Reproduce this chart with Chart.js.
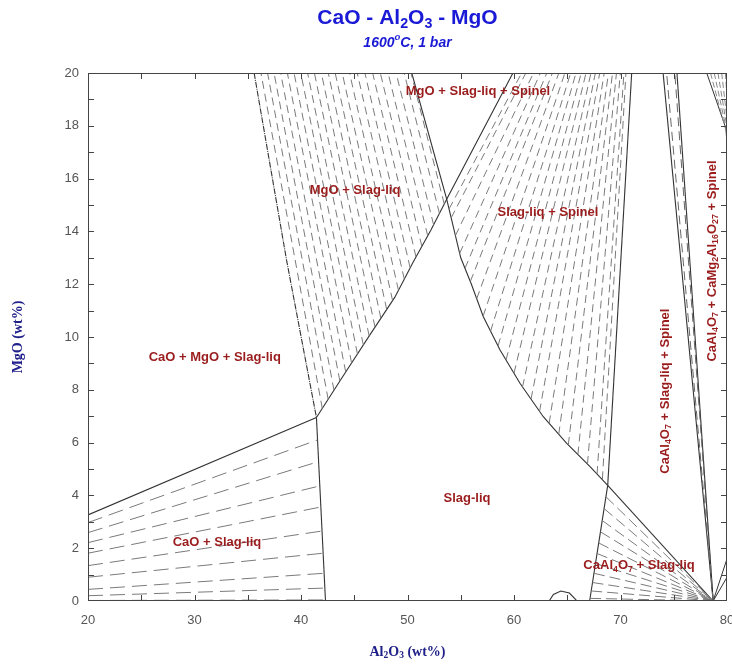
<!DOCTYPE html>
<html><head><meta charset="utf-8">
<script src="https://cdn.jsdelivr.net/npm/chart.js@4/dist/chart.umd.min.js"></script>
<style>html,body{margin:0;padding:0;background:#fff}#wrap{width:732px;height:664px;position:relative}</style>
</head><body><div id="wrap"><canvas id="c" width="732" height="664"></canvas></div>
<script>
// ---------- axis ticks ----------
const xTickMarks = [25,30,35,40,45,50,55,60,65,70,75];
const yTickMarks = [1,2,3,4,5,6,7,8,9,10,11,12,13,14,15,16,17,18,19];

// ---------- phase boundaries (Al2O3 wt%, MgO wt%) ----------
const caoLiquidus   = [[20,3.26],[41.45,6.95]];
const caoBoundary   = [[41.45,6.95],[42.3,0]];
const mgoBoundary   = [[35.6,20],[38.65,12.9],[41.45,6.95]];
const mgoLiquidus   = [[41.45,6.95],[44.0,8.55],[46.5,10.1],[48.8,11.5],[50.55,12.85],[52.2,14.05],[53.68,15.22],[59.9,20]];
const spinelLiquidus= [[50.4,20],[53.68,15.22],[55.0,13.0],[56.0,12.0],[57.12,10.77],[58.69,9.51],[60.56,8.25],[62.75,6.98],[64.95,5.97],[67.14,5.09],[68.8,4.38]];
const spinelBoundary= [[68.8,4.38],[71.05,20]];
const ca4Liquidus   = [[67.1,0],[68.8,4.38]];
const ca4Boundary   = [[68.8,4.38],[78.7,0]];
const bandLeft      = [[78.7,0],[74.0,20]];
const bandRight     = [[78.7,0],[75.3,20]];
const bandInnerTop  = [74.33,75.1];
const vertexRight   = [[80,1.6],[80,0.9]];
const topRightEdge  = [[78.1,20],[79.9,17.9],[80,17.3]];
const topRightTies  = [78.45,78.8,79.15,79.5,79.85];
const smallArc      = [[63.3,0],[63.7,0.25],[64.4,0.38],[65.2,0.3],[65.8,0.05],[65.9,0]];

// ---------- tie-lines ----------
const caoTieLeftY  = [2.97,2.59,2.21,1.81,1.34,0.9,0.44,0.2,0.02];
const caoTieRight  = [[41.55,6.1],[41.65,5.28],[41.77,4.36],[41.86,3.56],[41.97,2.65],[42.08,1.81],[42.17,1.05],[42.24,0.49],[42.3,0.04]];
const mgoTieLiq    = [[42.0,7.29],[42.55,7.64],[43.1,7.98],[43.65,8.33],[44.2,8.67],[44.75,9.02],[45.3,9.36],[45.85,9.70],[46.4,10.04],[46.95,10.37],[47.5,10.71],[48.05,11.04],[48.6,11.38],[49.15,11.77],[49.7,12.19],[50.25,12.62],[50.8,13.03],[51.35,13.43],[51.9,13.83],[52.45,14.25],[53.0,14.68],[53.45,15.04]];
const mgoTieTopX   = [36.24,36.86,37.47,38.09,38.72,39.35,39.98,40.62,41.26,41.91,42.56,43.21,43.87,44.56,45.28,46.00,46.73,47.45,48.18,48.93,49.69,50.33];
const spTieLiq     = [[53.9,14.85],[54.1,14.51],[54.5,13.84],[54.9,13.17],[55.4,12.6],[55.9,12.1],[56.5,11.45],[57.1,10.79],[57.8,10.22],[58.5,9.66],[59.25,9.13],[60.0,8.63],[60.8,8.11],[61.6,7.65],[62.4,7.18],[63.3,6.73],[64.2,6.31],[65.1,5.91],[66.0,5.55],[66.9,5.19],[67.8,4.81],[68.3,4.61]];
const spTieTopX    = [60.72,61.11,61.83,62.48,63.08,63.61,64.21,64.78,65.32,65.82,66.31,66.76,67.22,67.64,68.05,68.47,68.87,69.25,69.62,69.98,70.32,70.51];
const ca4Point     = [78.7,0];
const ca4TieLiq    = [[68.63,3.95],[68.46,3.5],[68.28,3.05],[68.12,2.62],[67.95,2.2],[67.8,1.8],[67.65,1.42],[67.51,1.05],[67.37,0.7],[67.25,0.38],[67.14,0.1]];

// ---------- labels ----------
const regionLabels = [
  {parts:[['MgO + Slag-liq + Spinel']], x:56.62, y:19.32, rot:false},
  {parts:[['MgO + Slag-liq']], x:45.07, y:15.57, rot:false},
  {parts:[['Slag-liq + Spinel']], x:63.19, y:14.73, rot:false},
  {parts:[['CaO + MgO + Slag-liq']], x:31.9, y:9.24, rot:false},
  {parts:[['Slag-liq']], x:55.59, y:3.9, rot:false},
  {parts:[['CaO + Slag-liq']], x:32.11, y:2.2, rot:false},
  {parts:[['CaAl'],['4','sub'],['O'],['7','sub'],[' + Slag-liq']], x:71.74, y:1.33, rot:false},
  {parts:[['CaAl'],['4','sub'],['O'],['7','sub'],[' + Slag-liq + Spinel']], x:74.18, y:7.95, rot:true},
  {parts:[['CaAl'],['4','sub'],['O'],['7','sub'],[' + CaMg'],['2','sub'],['Al'],['16','sub'],['O'],['27','sub'],[' + Spinel']], x:78.59, y:12.88, rot:true}
];
const titleParts    = [['CaO - Al'],['2','sub'],['O'],['3','sub'],[' - MgO']];
const subtitleParts = [['1600'],['o','sup'],['C, 1 bar']];
const xTitleParts   = [['Al'],['2','sub'],['O'],['3','sub'],[' (wt%)']];
const yTitleParts   = [['MgO (wt%)']];

// ---------- helpers ----------
const P = a => ({x:a[0], y:a[1]});
const GAP = {x:null, y:null};
function poly(arr){ return arr.map(P); }
function segs(pairs){ const d=[]; pairs.forEach(([a,b])=>{d.push(P(a),P(b),GAP);}); return d; }
function lineDs(data, color, width, dash){
  return {data, showLine:true, borderColor:color, borderWidth:width, borderDash:dash||[], pointRadius:0, pointHoverRadius:0, spanGaps:false, tension:0, fill:false};
}
const SOLID='#333', TIE='#7a7a7a';

const datasets = [
  lineDs(segs(caoTieLeftY.map((y,i)=>[[20,y],caoTieRight[i]])), TIE, 1, [15,7]),
  lineDs(segs(mgoTieLiq.map((p,i)=>[p,[mgoTieTopX[i],20]])), TIE, 1, [8,5]),
  lineDs(segs(spTieLiq.map((p,i)=>[p,[spTieTopX[i],20]])), TIE, 1, [8,5]),
  lineDs(segs(ca4TieLiq.map(p=>[p,ca4Point])), TIE, 1, [11,5]),
  lineDs(segs(bandInnerTop.map(x=>[ca4Point,[x,20]])), '#666', 1, [9,5]),
  lineDs(segs(topRightTies.map(x=>[[x,20],[80.3,17.2]])), '#888', 1, [6,3]),
  lineDs(poly(caoLiquidus), SOLID, 1.1),
  lineDs(poly(caoBoundary), SOLID, 1.1),
  lineDs(poly(mgoBoundary), SOLID, 1.1, [6,1,1,1]),
  lineDs(poly(mgoLiquidus), SOLID, 1.1),
  lineDs(poly(spinelLiquidus), SOLID, 1.1),
  lineDs(poly(spinelBoundary), SOLID, 1.1),
  lineDs(poly(ca4Liquidus), SOLID, 1.1),
  lineDs(poly(ca4Boundary), SOLID, 1.1),
  lineDs(poly(bandLeft), SOLID, 1.1),
  lineDs(poly(bandRight), SOLID, 1.1),
  lineDs(segs(vertexRight.map(p=>[ca4Point,p])), SOLID, 1),
  lineDs(poly(topRightEdge), SOLID, 1),
  lineDs(poly(smallArc), SOLID, 1.1)
];

// rich text
function richWidth(ctx, parts, size, fam, weight, style){
  let w=0;
  parts.forEach(([t,k])=>{ const s = k? size*0.68 : size; ctx.font = `${style} ${weight} ${s}px ${fam}`; w += ctx.measureText(t).width; });
  return w;
}
function drawRich(ctx, parts, cx, cy, size, fam, weight, style, color){
  const w = richWidth(ctx, parts, size, fam, weight, style);
  let x = cx - w/2;
  ctx.fillStyle = color; ctx.textBaseline='middle'; ctx.textAlign='left';
  parts.forEach(([t,k])=>{
    const s = k? size*0.68 : size;
    ctx.font = `${style} ${weight} ${s}px ${fam}`;
    const dy = k==='sub' ? size*0.28 : (k==='sup' ? -size*0.38 : 0);
    ctx.fillText(t, x, cy+dy);
    x += ctx.measureText(t).width;
  });
}

const SANS = '"Liberation Sans", Arial, sans-serif';
const NARROW = '"Liberation Sans Narrow", "Liberation Sans", Arial, sans-serif';
const SERIF = '"Liberation Serif", "Times New Roman", serif';

const decorPlugin = {
  id:'decor',
  afterDatasetsDraw(chart){
    const {ctx, chartArea:a, scales:{x,y}} = chart;
    ctx.save();
    ctx.strokeStyle='#444'; ctx.lineWidth=1;
    ctx.strokeRect(a.left+0.5, a.top+0.5, a.right-a.left-1, a.bottom-a.top-1);
    ctx.beginPath();
    xTickMarks.forEach(v=>{ const p=Math.round(x.getPixelForValue(v))+0.5;
      ctx.moveTo(p,a.bottom); ctx.lineTo(p,a.bottom-6); ctx.moveTo(p,a.top); ctx.lineTo(p,a.top+6); });
    yTickMarks.forEach(v=>{ const p=Math.round(y.getPixelForValue(v))+0.5;
      ctx.moveTo(a.left,p); ctx.lineTo(a.left+6,p); ctx.moveTo(a.right,p); ctx.lineTo(a.right-6,p); });
    ctx.stroke();
    regionLabels.forEach(L=>{
      const px=x.getPixelForValue(L.x), py=y.getPixelForValue(L.y);
      ctx.save(); ctx.translate(px,py); if(L.rot) ctx.rotate(-Math.PI/2);
      drawRich(ctx, L.parts, 0, 0, 13, SANS, 'bold', 'normal', '#9a1c1c');
      ctx.restore();
    });
    const cx = (a.left+a.right)/2;
    drawRich(ctx, titleParts, cx, 18, 21, NARROW, 'bold', 'normal', '#1a1ad6');
    drawRich(ctx, subtitleParts, cx, 43, 14, NARROW, 'bold', 'italic', '#1a1ad6');
    drawRich(ctx, xTitleParts, cx, 652, 14, SERIF, 'bold', 'normal', '#20208a');
    ctx.save(); ctx.translate(18, (a.top+a.bottom)/2); ctx.rotate(-Math.PI/2);
    drawRich(ctx, yTitleParts, 0, 0, 14, SERIF, 'bold', 'normal', '#20208a');
    ctx.restore();
    ctx.restore();
  }
};

new Chart(document.getElementById('c'), {
  type:'scatter',
  data:{datasets},
  options:{
    responsive:false, animation:false, maintainAspectRatio:false,
    layout:{padding:{top:73, right:5, left:0, bottom:0}},
    plugins:{legend:{display:false}, tooltip:{enabled:false}, title:{display:false}},
    scales:{
      x:{type:'linear', min:20, max:80,
         grid:{display:false, drawTicks:false}, border:{display:false},
         ticks:{stepSize:10, color:'#555', font:{family:SANS, size:13}, padding:12},
         afterFit(s){ s.height = 63; s.paddingLeft = 0; s.paddingRight = 0; }},
      y:{type:'linear', min:0, max:20,
         grid:{display:false, drawTicks:false}, border:{display:false},
         ticks:{stepSize:2, color:'#555', font:{family:SANS, size:13}, padding:9},
         afterFit(s){ s.width = 88; s.paddingTop = 0; s.paddingBottom = 0; }}
    }
  },
  plugins:[decorPlugin]
});
</script></body></html>
